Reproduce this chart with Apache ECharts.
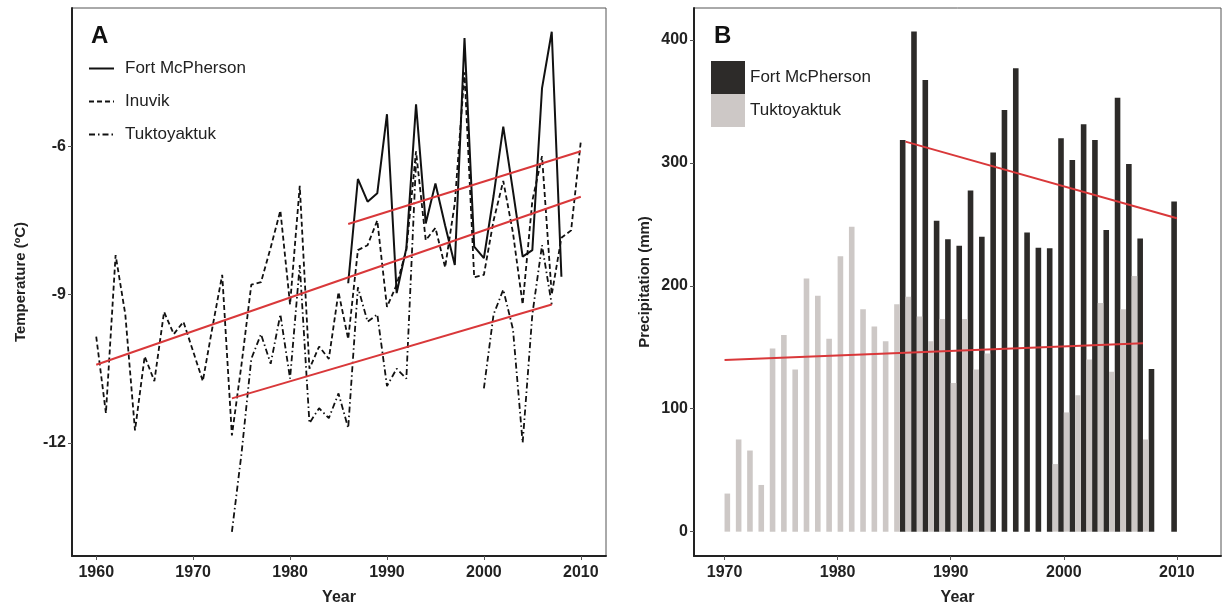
<!DOCTYPE html>
<html><head><meta charset="utf-8">
<script src="https://cdn.jsdelivr.net/npm/echarts@6/dist/echarts.min.js"></script>
<style>html,body{margin:0;padding:0;background:#fff}#c{width:1222px;height:605px}</style>
</head><body><div id="c"></div>
<script>
// ---------- Panel A: temperature ----------
const inuvikYears = [1960,1961,1962,1963,1964,1965,1966,1967,1968,1969,1970,1971,1972,1973,1974,1975,1976,1977,1978,1979,1980,1981,1982,1983,1984,1985,1986,1987,1988,1989,1990,1991,1992,1993,1994,1995,1996,1997,1998,1999,2000,2001,2002,2003,2004,2005,2006,2007,2008,2009,2010];
const inuvikTemp = [-9.85,-11.4,-8.2,-9.4,-11.75,-10.25,-10.75,-9.35,-9.8,-9.55,
  -10.15,-10.75,-9.65,-8.6,-11.85,-10.4,-8.8,-8.75,-8.05,-7.3,
  -9.2,-6.8,-10.5,-10.05,-10.3,-8.95,-9.9,-8.1,-8.0,-7.5,
  -9.25,-8.8,-8.1,-6.1,-7.9,-7.65,-8.45,-7.15,-4.5,-8.65,
  -8.6,-7.5,-6.7,-7.75,-9.2,-7.1,-6.2,-9.0,-7.85,-7.7,
  -5.9];
const fmTempYears = [1986,1987,1988,1989,1990,1991,1992,1993,1994,1995,1996,1997,1998,1999,2000,2001,2002,2003,2004,2005,2006,2007,2008];
const fmTemp = [-8.77,-6.66,-7.12,-6.95,-5.35,-8.97,-8.06,-5.15,-7.56,-6.75,-7.6,-8.4,-3.81,-8.03,-8.26,-7.0,-5.6,-6.9,-8.23,-8.1,-4.82,-3.68,-8.64];
const tukTempYears = [1974,1975,1976,1977,1978,1979,1980,1981,1982,1983,1984,1985,1986,1987,1988,1989,1990,1991,1992,1993,1994,1995,1996,1997,1998,1999,2000,2001,2002,2003,2004,2005,2006,2007];
const tukTemp = [-13.8,-12.2,-10.3,-9.8,-10.4,-9.4,-10.7,-8.4,-11.6,-11.3,
  -11.5,-11.0,-11.7,-8.85,-9.55,-9.4,-10.85,-10.5,-10.7,-6.3,
  null,null,null,null,null,null,
  -10.9,-9.4,-8.9,-9.7,-12.0,-9.4,-8.0,-9.2];
// trend lines (start/end)
const fmTempTrendYears = [1986, 2010];
const fmTempTrend = [-7.57, -6.1];
const inuvikTrendYears = [1960, 2010];
const inuvikTrend = [-10.42, -7.02];
const tukTempTrendYears = [1974, 2007];
const tukTempTrend = [-11.1, -9.2];
const tempXTicks = [1960, 1970, 1980, 1990, 2000, 2010];
const tempYTicks = [-12, -9, -6];

// ---------- Panel B: precipitation ----------
const fmPrecYears = [1986,1987,1988,1989,1990,1991,1992,1993,1994,1995,1996,1997,1998,1999,2000,2001,2002,2003,2004,2005,2006,2007,2008,2009,2010];
const fmPrec = [318.7,406.8,367.5,253,237.9,232.5,277.5,240,308.4,343,377,243.3,231,230.6,320,302.4,331.5,318.7,245.5,353,299,238.4,132.4,null,268.5];
const tukPrecYears = [1970,1971,1972,1973,1974,1975,1976,1977,1978,1979,1980,1981,1982,1983,1984,1985,1986,1987,1988,1989,1990,1991,1992,1993,1994,1995,1996,1997,1998,1999,2000,2001,2002,2003,2004,2005,2006,2007];
const tukPrec = [31,75,66,38,149,160,132,206,192,157,
  224,248,181,167,155,185,191,175,155,173,
  121,173,132,145,null,null,null,null,null,55,
  97,111,140,186,130,181,208,75];
const fmPrecTrendYears = [1986, 2010];
const fmPrecTrend = [317.3, 255];
const tukPrecTrendYears = [1970, 2007];
const tukPrecTrend = [139.7, 153.3];
const precXTicks = [1970, 1980, 1990, 2000, 2010];
const precYTicks = [0, 100, 200, 300, 400];

const FONT = '"Liberation Sans", Arial, sans-serif';
const pairs = (xs, ys) => xs.map((x, i) => [x, ys[i] == null ? '-' : ys[i]]);
const RED = '#d9383a';
const DARK = '#2d2b29';
const LIGHT = '#cdc8c6';

function xAxisCfg(grid, min, max, ticks) {
  return {
    type: 'value', gridIndex: grid, min: min, max: max,
    axisLine: {show: true, onZero: false, lineStyle: {color: '#222', width: 2}},
    axisTick: {show: true, length: 4, customValues: ticks, lineStyle: {color: '#555'}},
    axisLabel: {customValues: ticks, formatter: v => String(v), fontSize: 16, fontWeight: 'bold', color: '#222', margin: 9, fontFamily: FONT},
    splitLine: {show: false},
    name: 'Year', nameLocation: 'middle', nameGap: 34,
    nameTextStyle: {fontSize: 16, fontWeight: 'bold', color: '#222', fontFamily: FONT}
  };
}
function yAxisCfg(grid, min, max, ticks, name, gap) {
  return {
    type: 'value', gridIndex: grid, min: min, max: max,
    axisLine: {show: true, onZero: false, lineStyle: {color: '#222', width: 2}},
    axisTick: {show: true, length: 4, customValues: ticks, lineStyle: {color: '#555'}},
    axisLabel: {customValues: ticks, formatter: v => String(v), fontSize: 16, fontWeight: 'bold', color: '#222', margin: 6, fontFamily: FONT},
    splitLine: {show: false},
    name: name, nameLocation: 'middle', nameGap: gap,
    nameTextStyle: {fontSize: 15, fontWeight: 'bold', color: '#222', fontFamily: FONT}
  };
}
function trend(name, xs, ys, xi) {
  return {type: 'line', name: name, xAxisIndex: xi, yAxisIndex: xi, data: pairs(xs, ys),
    symbol: 'none', silent: true, lineStyle: {color: RED, width: 2}, z: 5};
}

const chart = echarts.init(document.getElementById('c'), null, {renderer: 'canvas'});
chart.setOption({
  animation: false,
  backgroundColor: '#ffffff',
  title: [
    {text: 'A', left: 91, top: 24, padding: 0, textStyle: {fontSize: 24, fontWeight: 'bold', color: '#111', fontFamily: FONT}},
    {text: 'B', left: 714, top: 24, padding: 0, textStyle: {fontSize: 24, fontWeight: 'bold', color: '#111', fontFamily: FONT}}
  ],
  legend: [
    {data: ['Fort McPherson', 'Inuvik', 'Tuktoyaktuk'], orient: 'vertical', left: 88, top: 60,
      itemWidth: 25, itemHeight: 14, itemGap: 16, padding: 0,
      itemStyle: {opacity: 0},
      textStyle: {fontSize: 17, color: '#222', fontFamily: FONT, padding: [0, 0, 0, 6]}},
    {data: ['B Fort McPherson', 'B Tuktoyaktuk'], orient: 'vertical', left: 711, top: 61,
      itemWidth: 34, itemHeight: 33, itemGap: 0, padding: 0, icon: 'rect',
      formatter: n => n.replace('B ', ''),
      textStyle: {fontSize: 17, color: '#222', fontFamily: FONT}}
  ],
  grid: [
    {left: 72, top: 8, width: 534, bottom: 49, show: true, borderColor: '#555', borderWidth: 1, outerBoundsMode: 'none', containLabel: false},
    {left: 694, top: 8, right: 1, bottom: 49, show: true, borderColor: '#555', borderWidth: 1, outerBoundsMode: 'none', containLabel: false}
  ],
  xAxis: [
    xAxisCfg(0, 1957.5, 2012.6, tempXTicks),
    xAxisCfg(1, 1967.3, 2013.9, precXTicks)
  ],
  yAxis: [
    yAxisCfg(0, -14.29, -3.2, tempYTicks, 'Temperature (ºC)', 44),
    yAxisCfg(1, -19.8, 426, precYTicks, 'Precipitation (mm)', 42)
  ],
  series: [
    {type: 'line', name: 'Fort McPherson', xAxisIndex: 0, yAxisIndex: 0, data: pairs(fmTempYears, fmTemp),
      symbol: 'none', lineStyle: {color: '#111', width: 2, type: 'solid'}, itemStyle: {color: '#111'}},
    {type: 'line', name: 'Inuvik', xAxisIndex: 0, yAxisIndex: 0, data: pairs(inuvikYears, inuvikTemp),
      symbol: 'none', lineStyle: {color: '#111', width: 1.8, type: [5, 3]}, itemStyle: {color: '#111'}},
    {type: 'line', name: 'Tuktoyaktuk', xAxisIndex: 0, yAxisIndex: 0, data: pairs(tukTempYears, tukTemp),
      symbol: 'none', connectNulls: false, lineStyle: {color: '#111', width: 1.8, type: [6, 3, 1.5, 3]}, itemStyle: {color: '#111'}},
    trend('t1', fmTempTrendYears, fmTempTrend, 0),
    trend('t2', inuvikTrendYears, inuvikTrend, 0),
    trend('t3', tukTempTrendYears, tukTempTrend, 0),
    {type: 'bar', name: 'B Fort McPherson', xAxisIndex: 1, yAxisIndex: 1, data: pairs(fmPrecYears, fmPrec),
      barWidth: 5.6, barGap: '0%', itemStyle: {color: DARK}},
    {type: 'bar', name: 'B Tuktoyaktuk', xAxisIndex: 1, yAxisIndex: 1, data: pairs(tukPrecYears, tukPrec),
      barWidth: 5.6, barGap: '0%', itemStyle: {color: LIGHT}},
    trend('t4', fmPrecTrendYears, fmPrecTrend, 1),
    trend('t5', tukPrecTrendYears, tukPrecTrend, 1)
  ]
});
</script>
</body></html>
